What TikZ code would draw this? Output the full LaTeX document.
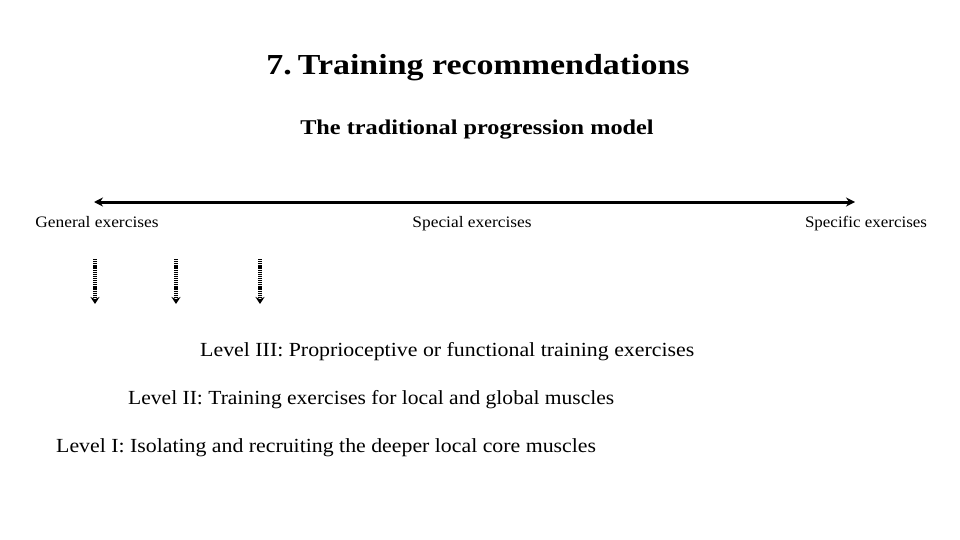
\documentclass[tikz,border=0pt]{standalone}
\usepackage{fontspec}
\setmainfont{Liberation Serif}
\usetikzlibrary{arrows.meta}
\tikzset{
  lbl/.style={inner sep=0pt, anchor=base, font=\fontsize{16}{18}\selectfont},
  lvl/.style={inner sep=0pt, anchor=base west, font=\fontsize{20}{22}\selectfont},
  mainarrow/.style={line width=3pt, {Stealth[length=9pt,width=9pt]}-{Stealth[length=9pt,width=9pt]}},
  dotarrow/.style={line width=3.5pt, dash pattern=on 1.2pt off 0.9pt, -{Stealth[length=7pt,width=9pt]}}
}
\begin{document}
\begin{tikzpicture}[x=1pt,y=-1pt]
\useasboundingbox[fill=white] (0,0) rectangle (960,540);
\node[inner sep=0pt, anchor=base, font=\fontsize{29}{32}\selectfont\bfseries] (title) at (478,75) {\scalebox{1.17}[1]{7.\hspace{0.18em}Training recommendations}};
\node[inner sep=0pt, anchor=base, font=\fontsize{21}{24}\selectfont\bfseries] (sub) at (477,135) {\scalebox{1.157}[1]{The traditional progression model}};
\coordinate (aL) at (94,202);
\coordinate (aR) at (855,202);
\draw[mainarrow] (aL) -- (aR);
\node[lbl] (gen) at (97,227) {\scalebox{1.088}[1]{General exercises}};
\node[lbl] (spe) at (472,227) {\scalebox{1.085}[1]{Special exercises}};
\node[lbl] (spf) at (866,227) {\scalebox{1.06}[1]{Specific exercises}};
\coordinate (d1a) at (95,259); \coordinate (d1b) at (95,304);
\coordinate (d2a) at (176,259); \coordinate (d2b) at (176,304);
\coordinate (d3a) at (260,259); \coordinate (d3b) at (260,304);
\draw[dotarrow] (d1a) -- (d1b);
\draw[dotarrow] (d2a) -- (d2b);
\draw[dotarrow] (d3a) -- (d3b);
\node[lvl] (l3) at (200,356) {\scalebox{1.093}[1]{Level III: Proprioceptive or functional training exercises}};
\node[lvl] (l2) at (128,404) {\scalebox{1.077}[1]{Level II: Training exercises for local and global muscles}};
\node[lvl] (l1) at (56,452) {\scalebox{1.091}[1]{Level I: Isolating and recruiting the deeper local core muscles}};
\end{tikzpicture}
\end{document}
